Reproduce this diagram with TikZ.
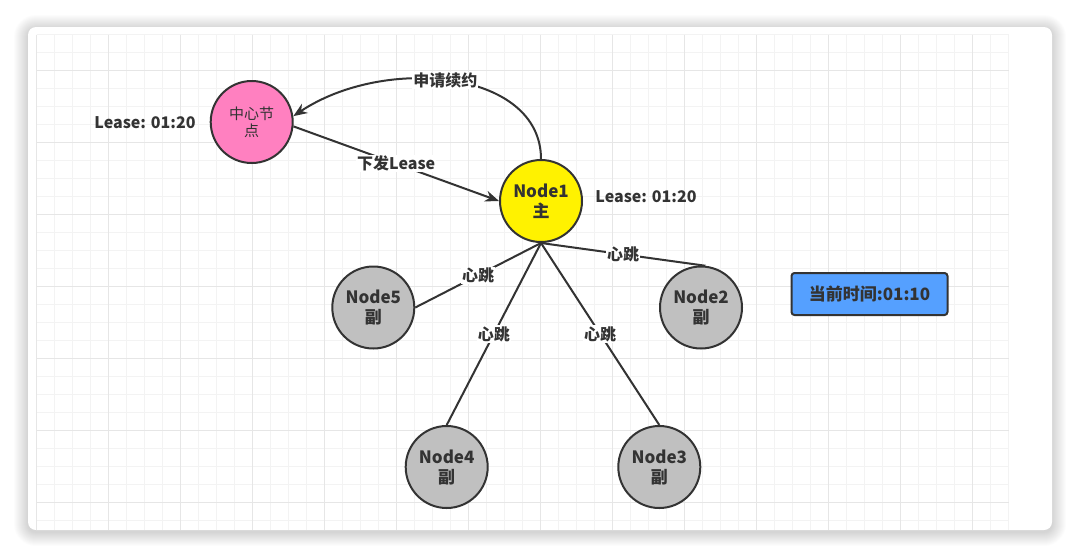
\documentclass[tikz,border=0pt]{standalone}
\usepackage{fontspec}
\setmainfont{Noto Sans CJK SC}
\usetikzlibrary{arrows.meta}
\definecolor{ink}{HTML}{333333}
\definecolor{ctrpink}{HTML}{FF80C0}
\definecolor{secgray}{HTML}{C0C0C0}
\definecolor{nowblue}{HTML}{55A0FF}
\definecolor{gridlo}{HTML}{F3F3F3}
\definecolor{gridhi}{HTML}{E6E6E6}

\begin{document}
\begin{tikzpicture}
            [x=1pt, y=-1pt,
              ctr/.style={circle, fill=ctrpink, draw=ink, line width=2pt,
                inner sep=0pt, minimum size=82pt, align=center, text=ink,
                font=\fontsize{15}{17}\selectfont},
              pri/.style={ctr, fill=yellow, font=\bfseries\fontsize{17}{20}\selectfont},
              sec/.style={pri, fill=secgray},
              now/.style={rectangle, rounded corners=3pt, fill=nowblue, draw=ink,
                line width=2pt, minimum width=156pt, minimum height=42pt, text=ink,
                font=\bfseries\fontsize{17}{20}\selectfont},
              lbl/.style={fill=white, inner sep=1pt, text=ink,
                font=\bfseries\fontsize{16}{18}\selectfont},
              txt/.style={text=ink, font=\bfseries\fontsize{16}{18}\selectfont},
              beat/.style={line width=2pt, draw=ink},
              ->/.style={line width=2pt, draw=ink, arrows={-Stealth[length=14pt, width=11pt]}}]
            \useasboundingbox (0, 0) rectangle (1080, 558);
            \fill[white] (0, 0) rectangle (1080, 558);
            % card shadow
            \foreach \i in {1,...,14}
              \fill[black, opacity=0.012, rounded corners={8+\i}]
                ({28-\i}, {29-\i}) rectangle ({1052+\i}, {532+\i});
            \fill[white, rounded corners=8pt] (28, 27) rectangle (1052, 530);
            % grid
            \foreach \k in {0,...,54}
              \draw[gridlo, line width=1pt] ({36.7+18*\k}, 34.7) -- ({36.7+18*\k}, 530);
            \foreach \k in {0,...,27}
              \draw[gridlo, line width=1pt] (36.7, {34.7+18*\k}) -- (1008.7, {34.7+18*\k});
            \foreach \k in {0,...,13}
              \draw[gridhi, line width=1pt] ({36.7+72*\k}, 34.7) -- ({36.7+72*\k}, 530);
            \foreach \k in {0,...,6}
              \draw[gridhi, line width=1pt] (36.7, {70.7+72*\k}) -- (1008.7, {70.7+72*\k});
            % nodes
            \node[ctr] (c) at (251.7, 122) {中心节\\点};
            \node[pri] (n1) at (541, 201) {Node1\\主};
            \node[sec] (n5) at (373.3, 307.5) {Node5\\副};
            \node[sec] (n2) at (701, 307.5) {Node2\\副};
            \node[sec] (n4) at (446.7, 467) {Node4\\副};
            \node[sec] (n3) at (659.3, 467) {Node3\\副};
            \node[now] (t) at (869.5, 294) {当前时间:01:10};
            \node[txt] at (145, 123) {Lease: 01:20};
            \node[txt] at (646, 197) {Lease: 01:20};
            % edges
            \draw[->] (n1.north) .. controls (541, 70) and (385, 55) .. (c.8)
              node[lbl, pos=0.52] {申请续约};
            \draw[->] (c.-6) to node[lbl] {下发Lease} (n1.west);
            \draw[beat] (n1.south) to node[lbl] {心跳} (n5.east);
            \draw[beat] (n1.south) to node[lbl] {心跳} (n4.north);
            \draw[beat] (n1.south) to node[lbl] {心跳} (n3.north);
            \draw[beat] (n1.south) to node[lbl] {心跳} (n2.84);
        \end{tikzpicture}
\end{document}
